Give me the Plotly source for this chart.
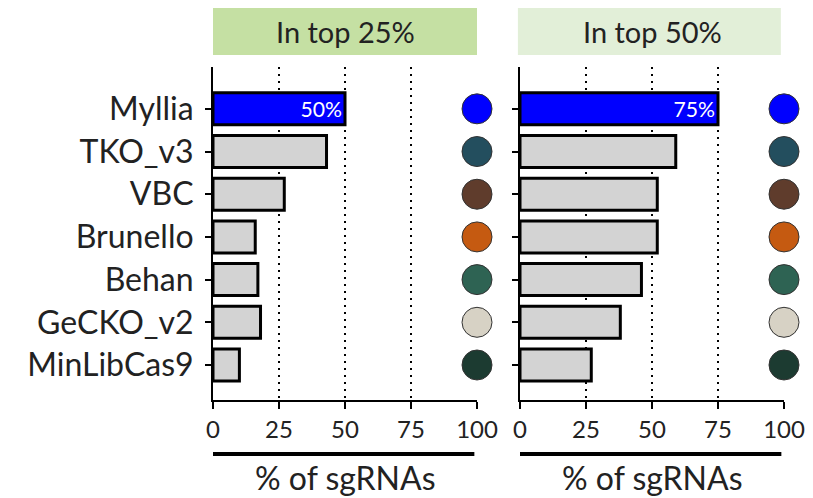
import plotly.graph_objects as go

libraries = ["Myllia", "TKO_v3", "VBC", "Brunello", "Behan", "GeCKO_v2", "MinLibCas9"]
top25 = [50, 43, 27, 16, 17, 18, 10]
top50 = [75, 59, 52, 52, 46, 38, 27]
panel_titles = ["In top 25%", "In top 50%"]
strip_colors = ["#c5e0a3", "#e2efd8"]
bar_colors = ["#0000ff"] + ["#d3d3d3"] * 6
dot_colors = ["#0000ff", "#234e5e", "#5f3c2c", "#c55a11", "#2e6353", "#d7d2c5", "#1c3b31"]
x_ticks = [0, 25, 50, 75, 100]
x_title = "% of sgRNAs"

FONT = "Lato"
W, H = 813, 498
OFF = 8  # page body margin offset
T = 67 - OFF
B = H - (400 - OFF)
PH = H - T - B

def py(ypx):
    return (H - B - (ypx - OFF)) / PH

def px(xpx):
    return (xpx - OFF) / W

fig = go.Figure()
panels = [(top25, "x", "y", [px(213), px(477)]), (top50, "x2", "y2", [px(520), px(784)])]
for i, (vals, xa, ya, dom) in enumerate(panels):
    texts = [f"{vals[0]}%"] + [""] * 6
    fig.add_trace(go.Bar(
        x=vals, y=libraries, orientation="h", xaxis=xa, yaxis=ya,
        marker=dict(color=bar_colors, line=dict(color="black", width=3)),
        width=0.75, text=texts, textposition="inside", insidetextanchor="end",
        textfont=dict(color="white", size=22, family=FONT), showlegend=False,
        hoverinfo="skip",
    ))
    fig.add_trace(go.Scatter(
        x=[100] * len(libraries), y=libraries, mode="markers", xaxis=xa, yaxis=ya,
        marker=dict(size=30, color=dot_colors, line=dict(color="#333333", width=1)),
        cliponaxis=False, showlegend=False, hoverinfo="skip",
    ))
    sfx = "" if i == 0 else "2"
    fig.update_layout(**{
        f"xaxis{sfx}": dict(
            domain=dom, range=[0, 100], tickvals=x_ticks, showgrid=True,
            gridcolor="black", gridwidth=2, griddash="2px,5px",
            showline=True, linecolor="black", linewidth=2,
            ticks="outside", ticklen=7, tickwidth=2, tickcolor="black",
            tickfont=dict(size=24, color="#222222", family=FONT),
            zeroline=False, anchor=ya, fixedrange=True, automargin=False,
        ),
        f"yaxis{sfx}": dict(
            domain=[0, 1], type="category", categoryarray=libraries,
            range=[6.82, -0.98], showgrid=False,
            showline=True, linecolor="black", linewidth=2,
            ticks="outside", ticklen=6, tickwidth=2, tickcolor="black",
            showticklabels=(i == 0), ticklabelstandoff=5,
            tickfont=dict(size=32, color="#222222", family=FONT),
            anchor=xa, fixedrange=True, automargin=False,
        ),
    })
    xd = "x domain" if i == 0 else "x2 domain"
    fig.add_shape(type="rect", xref=xd, yref="paper",
                  x0=0 if i == 0 else -0.008, x1=1 if i == 0 else 0.988,
                  y0=py(55), y1=py(8), fillcolor=strip_colors[i], line=dict(width=0), layer="below")
    fig.add_annotation(xref=xd, yref="paper", x=0.5, y=py(31), text=panel_titles[i],
                       showarrow=False, font=dict(size=29, color="#222222", family=FONT),
                       xanchor="center", yanchor="middle")
    fig.add_shape(type="line", xref=xd, yref="paper", x0=0, x1=0.99,
                  y0=py(454), y1=py(454), line=dict(color="black", width=4))
    fig.add_annotation(xref=xd, yref="paper", x=0.5, y=py(477), text=x_title,
                       showarrow=False, font=dict(size=32, color="#222222", family=FONT),
                       xanchor="center", yanchor="middle")

fig.update_layout(
    width=W, height=H, margin=dict(l=0, r=0, t=T, b=B, autoexpand=False),
    paper_bgcolor="white", plot_bgcolor="white", bargap=0.25,
    font=dict(family=FONT),
)
fig.write_html("out.html")
